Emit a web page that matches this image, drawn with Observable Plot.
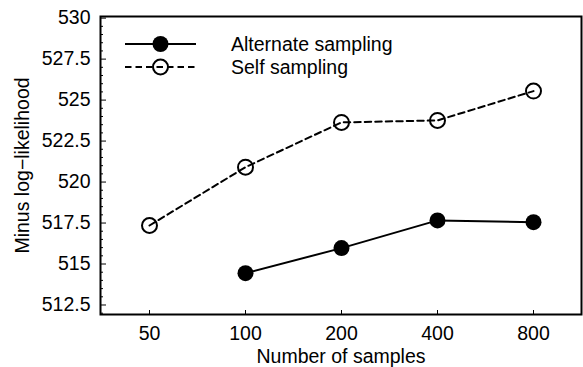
<!DOCTYPE html>
<html>
<head>
<meta charset="utf-8">
<script src="https://cdn.jsdelivr.net/npm/d3@7"></script>
<script src="https://cdn.jsdelivr.net/npm/@observablehq/plot@0.6"></script>
<style>
  html, body { margin: 0; padding: 0; background: #fff; }
  #wrap { position: relative; width: 583px; height: 367px; font-family: "Liberation Sans", Arial, Helvetica, sans-serif; }
  #legend { position: absolute; left: 0; top: 0; pointer-events: none; }
</style>
</head>
<body>
<div id="wrap"></div>
<script>
// ---- data ----
const sampleLabels = ["50", "100", "200", "400", "800"];
const altSamples = ["100", "200", "400", "800"];
const altValues = [514.44, 515.97, 517.66, 517.55];
const selfSamples = ["50", "100", "200", "400", "800"];
const selfValues = [517.35, 520.91, 523.64, 523.76, 525.55];
const yMajorTicks = [512.5, 515, 517.5, 520, 522.5, 525, 527.5, 530];
const yMinorTicks = d3.range(512, 530.01, 0.5).filter(v => !yMajorTicks.includes(v));
const seriesNames = ["Alternate sampling", "Self sampling"];

const altRows = altSamples.map((s, i) => ({samples: s, value: altValues[i]}));
const selfRows = selfSamples.map((s, i) => ({samples: s, value: selfValues[i]}));

const W = 583, H = 367;
const mL = 100, mR = 2, mT = 16, mB = 53;
const innerW = W - mL - mR, innerH = H - mT - mB;
const dash = "6.5,4";
const fontSize = "19.5px";

const chart = Plot.plot({
  width: W,
  height: H,
  marginLeft: mL,
  marginRight: mR,
  marginTop: mT,
  marginBottom: mB,
  style: {fontFamily: '"Liberation Sans", Arial, Helvetica, sans-serif', fontSize, color: "black", background: "white"},
  x: {type: "point", domain: sampleLabels, padding: 0.5},
  y: {domain: [511.92, 530.1]},
  marks: [
    Plot.axisY({ticks: yMajorTicks, tickSize: 0, tickPadding: 10, tickFormat: d => String(d),
      label: "Minus log\u2212likelihood", labelAnchor: "center", labelArrow: "none", labelOffset: 85}),
    Plot.axisX({tickSize: 0, tickPadding: 12, label: "Number of samples", labelAnchor: "center", labelArrow: "none", labelOffset: 48}),
    Plot.tickY(yMinorTicks, {y: d => d, insetRight: innerW - 3, stroke: "black", strokeWidth: 1}),
    Plot.tickY(yMajorTicks, {y: d => d, insetRight: innerW - 6, stroke: "black", strokeWidth: 1}),
    Plot.tickX(sampleLabels, {x: d => d, insetTop: innerH - 4, stroke: "black", strokeWidth: 1}),
    Plot.line(selfRows, {x: "samples", y: "value", stroke: "black", strokeWidth: 2, strokeDasharray: dash}),
    Plot.line(altRows, {x: "samples", y: "value", stroke: "black", strokeWidth: 2}),
    Plot.dot(selfRows, {x: "samples", y: "value", r: 7.5, stroke: "black", strokeWidth: 2, fill: "none"}),
    Plot.dot(altRows, {x: "samples", y: "value", r: 8, fill: "black", stroke: "none"}),
    Plot.frame({stroke: "black", strokeWidth: 2})
  ]
});
document.getElementById("wrap").appendChild(chart);

// legend overlay
const ns = "http://www.w3.org/2000/svg";
const lg = document.createElementNS(ns, "svg");
lg.setAttribute("id", "legend");
lg.setAttribute("width", W);
lg.setAttribute("height", H);
const items = [
  {name: seriesNames[0], y: 44, dashed: false, filled: true},
  {name: seriesNames[1], y: 67, dashed: true, filled: false}
];
for (const it of items) {
  const line = document.createElementNS(ns, "line");
  line.setAttribute("x1", 125); line.setAttribute("x2", 196);
  line.setAttribute("y1", it.y); line.setAttribute("y2", it.y);
  line.setAttribute("stroke", "black"); line.setAttribute("stroke-width", 2);
  if (it.dashed) line.setAttribute("stroke-dasharray", dash);
  lg.appendChild(line);
  const c = document.createElementNS(ns, "circle");
  c.setAttribute("cx", 160.5); c.setAttribute("cy", it.y);
  c.setAttribute("r", it.filled ? 8 : 7.5);
  c.setAttribute("fill", it.filled ? "black" : "none");
  c.setAttribute("stroke", it.filled ? "none" : "black");
  c.setAttribute("stroke-width", 2);
  lg.appendChild(c);
  const t = document.createElementNS(ns, "text");
  t.setAttribute("x", 231); t.setAttribute("y", it.y + 6.5);
  t.setAttribute("font-size", fontSize);
  t.setAttribute("font-family", '"Liberation Sans", Arial, Helvetica, sans-serif');
  t.setAttribute("fill", "black");
  t.textContent = it.name;
  lg.appendChild(t);
}
document.getElementById("wrap").appendChild(lg);
</script>
</body>
</html>
